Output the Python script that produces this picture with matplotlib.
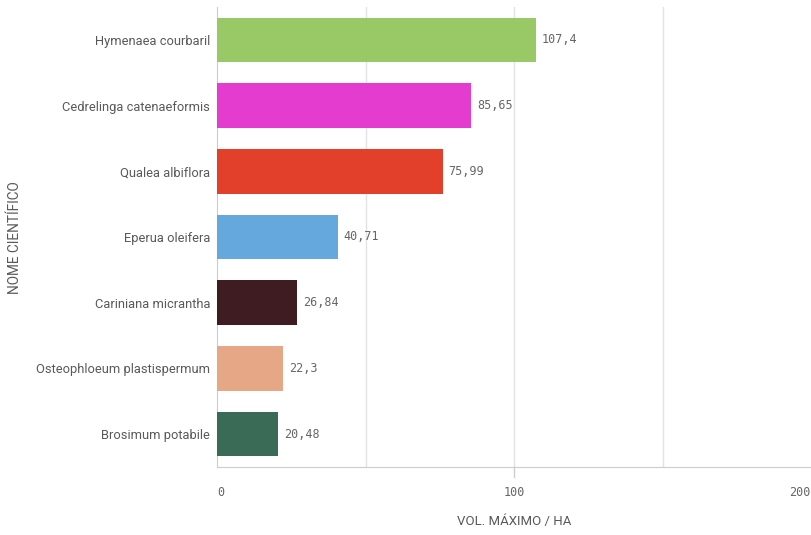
import matplotlib.pyplot as plt

species = ['Hymenaea courbaril', 'Cedrelinga catenaeformis', 'Qualea albiflora',
           'Eperua oleifera', 'Cariniana micrantha', 'Osteophloeum plastispermum',
           'Brosimum potabile']
volumes = [107.4, 85.65, 75.99, 40.71, 26.84, 22.3, 20.48]
value_labels = ['107,4', '85,65', '75,99', '40,71', '26,84', '22,3', '20,48']
colors = ['#99c866', '#e43ccf', '#e2402a', '#64a8de', '#3f1c22', '#e5a785', '#3a6b57']
x_ticks = [0, 100, 200]
x_grid = [50, 100, 150]

txt = '#595959'
fig = plt.figure(figsize=(8.11, 5.35), dpi=100)
ax = fig.add_axes([217 / 811, 1 - 467 / 535, 1 - 217 / 811, 460 / 535])

ypos = list(range(len(species)))
ax.barh(ypos, volumes, height=0.68, color=colors, zorder=3)
for y, v, lab in zip(ypos, volumes, value_labels):
    ax.text(v + 2, y, lab, va='center', ha='left', fontsize=8.5,
            family='DejaVu Sans Mono', color='#666666')

ax.set_xlim(0, 200)
ax.set_ylim(len(species) - 0.5, -0.5)
for g in x_grid:
    ax.axvline(g, color='#e3e3e3', lw=1, zorder=1)

ax.set_yticks(ypos)
ax.set_yticklabels(species, family='Roboto', fontsize=9.3, color=txt)
ax.tick_params(axis='y', length=0, pad=5)
ax.set_xticks([])
for t in x_ticks:
    ha = 'left' if t == 0 else ('right' if t == 200 else 'center')
    ax.text(t, -0.055, str(t), transform=ax.get_xaxis_transform(), ha=ha, va='center',
            fontsize=8.5, family='DejaVu Sans Mono', color='#666666')
# small tick mark under the 100 line
ax.plot([100, 100], [0, -0.022], transform=ax.get_xaxis_transform(), color='#cccccc',
        lw=1, clip_on=False)

for s in ['top', 'right']:
    ax.spines[s].set_visible(False)
ax.spines['left'].set_color('#cccccc')
ax.spines['bottom'].set_color('#cccccc')

fig.text(514 / 811, 1 - 522 / 535, 'VOL. MÁXIMO / HA', ha='center', va='center',
         family='Roboto', fontsize=9.5, color=txt)
fig.text(15 / 811, 1 - 238 / 535, 'NOME CIENTÍFICO', ha='center', va='center',
         rotation=90, family='Roboto', fontsize=9.8, color=txt)

fig.savefig('out.png', dpi=100)
